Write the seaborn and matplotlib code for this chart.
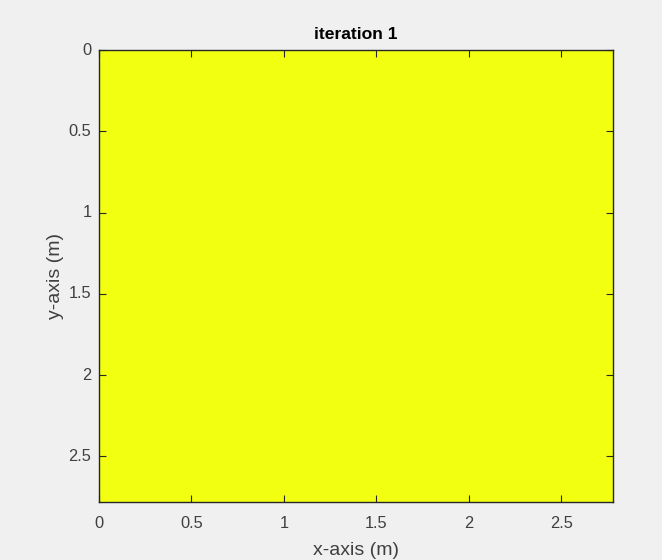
import matplotlib
matplotlib.use("Agg")
import matplotlib.pyplot as plt
import seaborn as sns
import numpy as np
import pandas as pd
from matplotlib.colors import ListedColormap

# domain and field values (uniform after iteration 1)
domain_size = 2.78
n_cells = 10
field = [[1.0] * n_cells for _ in range(n_cells)]
tick_values = [0, 0.5, 1, 1.5, 2, 2.5]
tick_labels = ["0", "0.5", "1", "1.5", "2", "2.5"]
field_color = "#f2ff10"

sns.set_style("white")
plt.rcParams["font.family"] = ["Liberation Sans", "DejaVu Sans"]

fig = plt.figure(figsize=(6.62, 5.6), dpi=100, facecolor="#f0f0f0")
ax = fig.add_axes([0.1495, 0.1036, 0.7765, 0.8071])

df = pd.DataFrame(field)
sns.heatmap(df, ax=ax, cmap=ListedColormap([field_color]), cbar=False,
            vmin=0, vmax=2, linewidths=0)
ax.set_axisbelow(False)

cell = domain_size / n_cells
pos = [v / cell for v in tick_values]
ax.set_xticks(pos)
ax.set_xticklabels(tick_labels, rotation=0)
ax.set_yticks(pos)
ax.set_yticklabels(tick_labels, rotation=0)
ax.set_xlim(0, n_cells)
ax.set_ylim(n_cells, 0)

for s in ax.spines.values():
    s.set_visible(True)
    s.set_color("#262626")
    s.set_linewidth(1.0)
    s.set_zorder(5)
ax.tick_params(direction="in", length=5, width=0.8, color="#262626",
               labelcolor="#404040", labelsize=11.8, top=True, right=True,
               bottom=True, left=True)
ax.tick_params(axis="x", pad=10)
ax.tick_params(axis="y", pad=5.5)

ax.set_xlabel("x-axis (m)", fontsize=14, color="#404040", labelpad=8)
ax.set_ylabel("y-axis (m)", fontsize=14, color="#404040", labelpad=3)
ax.set_title("iteration 1", fontsize=12.6, fontweight="bold", color="#000000", pad=8)

fig.savefig("out.png", dpi=100, facecolor=fig.get_facecolor())
